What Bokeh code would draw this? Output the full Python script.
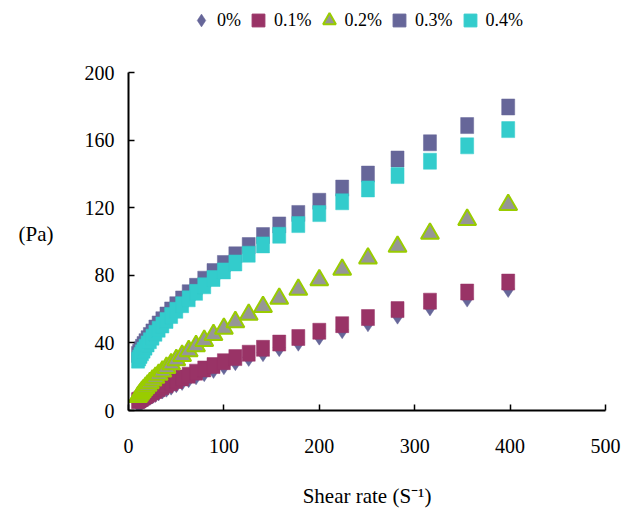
from bokeh.plotting import figure
from bokeh.models import Legend, LegendItem, FixedTicker, Range1d
from bokeh.embed import file_html
from bokeh.resources import INLINE

shear_rate = [10.0, 11.2, 12.6, 14.1, 15.8, 17.8, 20.0, 22.4, 25.1, 28.2, 31.6, 35.5, 39.8,
              44.7, 50.1, 56.2, 63.1, 70.8, 79.4, 89.1, 100, 112, 126, 141, 158, 178, 200,
              224, 251, 282, 316, 355, 398]
stress_0 = [4.1, 4.5, 5.1, 5.6, 6.3, 6.8, 7.5, 8.3, 9.2, 10.0, 11.0, 12.1, 13.2, 14.4, 15.8,
            17.2, 18.8, 20.5, 22.4, 24.3, 26.5, 28.9, 31.4, 34.2, 37.2, 40.4, 44.0, 47.8,
            51.9, 56.4, 61.3, 66.5, 72.2]
stress_01 = [5.8, 6.2, 6.8, 7.3, 8.0, 8.6, 9.3, 10.1, 11.0, 11.9, 12.9, 14.0, 15.2, 16.4,
             17.8, 19.3, 20.9, 22.7, 24.6, 26.6, 28.9, 31.3, 33.9, 36.8, 39.9, 43.2, 46.9,
             50.8, 55.0, 59.7, 64.7, 70.1, 76.0]
stress_02 = [8.1, 9.0, 10.0, 11.1, 12.2, 13.5, 14.8, 16.3, 17.8, 19.5, 21.2, 23.2, 25.3,
             27.5, 29.9, 32.4, 35.2, 38.2, 41.3, 44.8, 48.5, 52.4, 56.7, 61.3, 66.2, 71.5,
             77.2, 83.4, 90.0, 97.0, 104.7, 112.9, 121.7]
stress_03 = [33.2, 34.5, 35.9, 37.4, 39.0, 40.7, 42.5, 44.4, 46.5, 48.8, 51.2, 53.7, 56.5,
             59.5, 62.6, 66.0, 69.7, 73.5, 77.7, 82.2, 87.0, 92.1, 97.6, 103.5, 109.8, 116.6,
             123.8, 131.6, 139.9, 148.8, 158.4, 168.6, 179.6]
stress_04 = [29.8, 31.1, 32.6, 34.1, 35.7, 37.5, 39.4, 41.3, 43.4, 45.7, 48.1, 50.6, 53.3,
             56.2, 59.3, 62.6, 66.1, 69.9, 73.8, 78.1, 82.6, 87.3, 92.5, 98.0, 103.7, 110.0,
             116.5, 123.5, 131.1, 139.0, 147.5, 156.6, 166.2]
series_labels = ["0%", "0.1%", "0.2%", "0.3%", "0.4%"]
x_ticks = [0, 100, 200, 300, 400, 500]
y_ticks = [0, 40, 80, 120, 160, 200]

FONT = "'Liberation Serif'"

# frame extends to the top of the canvas so that the legend can sit above y=200
FRAME_H = 410
PX_PER_UNIT = 338 / (y_ticks[-1] - y_ticks[0])
y_top = FRAME_H / PX_PER_UNIT

p = figure(width=628, height=511, output_backend="svg", toolbar_location=None,
           title=None,
           x_range=Range1d(x_ticks[0], x_ticks[-1]), y_range=Range1d(y_ticks[0], y_top),
           min_border_left=128, min_border_right=23, min_border_top=0,
           min_border_bottom=511 - FRAME_H)
p.outline_line_color = None
p.grid.visible = False
p.background_fill_color = "white"
p.border_fill_color = "white"

c_dia = "#666699"
c_01 = "#993366"
c_03 = "#666699"
c_04 = "#33CCCC"

r0 = p.scatter(shear_rate, stress_0, marker="diamond", size=18, fill_color=c_dia,
               line_color=c_dia, line_width=0.5)
# small squares underneath the rectangles (fully covered) serve as legend glyphs
s1 = p.scatter(shear_rate, stress_01, marker="square", size=10, fill_color=c_01,
               line_color=c_01)
r1 = p.rect(shear_rate, stress_01, width=13, height=16, width_units="screen",
            height_units="screen", fill_color=c_01, line_color=c_01, line_width=0.5)
r2 = p.scatter(shear_rate, stress_02, marker="triangle", size=18, fill_color="#969696",
               line_color="#99CC00", line_width=2)
s3 = p.scatter(shear_rate, stress_03, marker="square", size=10, fill_color=c_03,
               line_color=c_03)
r3 = p.rect(shear_rate, stress_03, width=13, height=16, width_units="screen",
            height_units="screen", fill_color=c_03, line_color=c_03, line_width=0.5)
s4 = p.scatter(shear_rate, stress_04, marker="square", size=10, fill_color=c_04,
               line_color=c_04)
r4 = p.rect(shear_rate, stress_04, width=13, height=16, width_units="screen",
            height_units="screen", fill_color=c_04, line_color=c_04, line_width=0.5)

legend = Legend(items=[
    LegendItem(label=series_labels[0], renderers=[r0]),
    LegendItem(label=series_labels[1], renderers=[s1]),
    LegendItem(label=series_labels[2], renderers=[r2]),
    LegendItem(label=series_labels[3], renderers=[s3]),
    LegendItem(label=series_labels[4], renderers=[s4]),
], orientation="horizontal", location=(57, FRAME_H - 40), glyph_width=32, glyph_height=40,
    label_standoff=0, spacing=1, padding=0, margin=0, border_line_color=None,
    background_fill_alpha=0, label_text_font=FONT, label_text_font_size="18px",
    label_text_color="black")
p.add_layout(legend, "center")

for ax in (p.xaxis[0], p.yaxis[0]):
    ax.axis_line_width = 2
    ax.axis_line_color = "black"
    ax.major_tick_in = 6
    ax.major_tick_out = 0
    ax.major_tick_line_width = 1.5
    ax.major_tick_line_color = "black"
    ax.minor_tick_line_color = None
    ax.major_label_text_font = FONT
    ax.major_label_text_font_size = "20px"
    ax.major_label_text_color = "black"
    ax.axis_label_text_font = FONT
    ax.axis_label_text_font_size = "21px"
    ax.axis_label_text_font_style = "normal"
    ax.axis_label_text_color = "black"

p.yaxis.bounds = (y_ticks[0], y_ticks[-1])
p.xaxis.ticker = FixedTicker(ticks=x_ticks)
p.yaxis.ticker = FixedTicker(ticks=y_ticks)
p.xaxis.major_label_standoff = 28
p.yaxis.major_label_standoff = 14
p.xaxis.axis_label = "Shear rate (S\u207b\u00b9)"
p.xaxis.axis_label_standoff = 28
p.yaxis.axis_label = "\n\n(Pa)"
p.yaxis.axis_label_orientation = "horizontal"
p.yaxis.axis_label_standoff = 28

open("out.html", "w").write(file_html(p, INLINE))
